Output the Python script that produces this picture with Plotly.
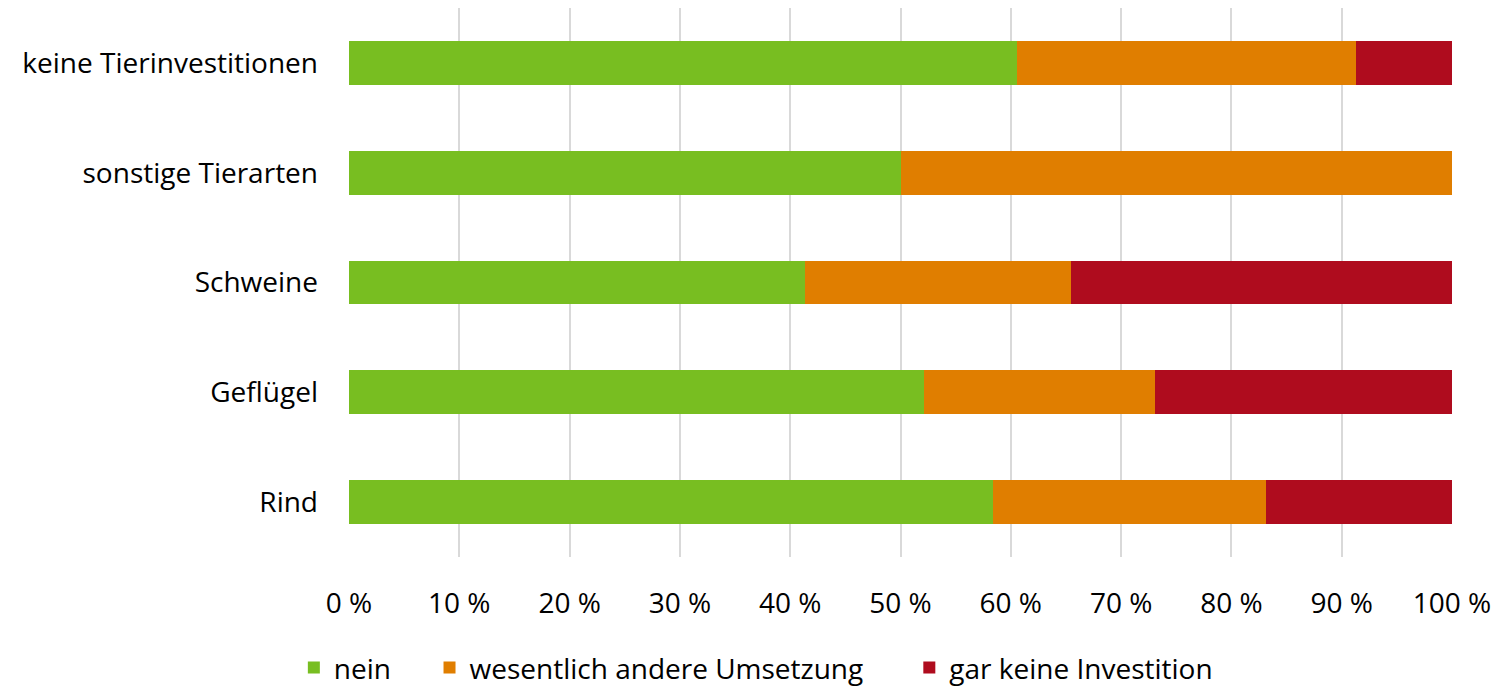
import plotly.graph_objects as go

# categories bottom -> top
categories = ["Rind", "Geflügel", "Schweine", "sonstige Tierarten", "keine Tierinvestitionen"]
nein = [58.4, 52.1, 41.3, 50.0, 60.6]
andere = [24.7, 21.0, 24.2, 50.0, 30.7]
keine_inv = [16.9, 26.9, 34.5, 0.0, 8.7]

tick_vals = [0, 10, 20, 30, 40, 50, 60, 70, 80, 90, 100]
tick_text = [f"{v} %" for v in tick_vals]

font_family = "'Open Sans', sans-serif"

fig = go.Figure()
fig.add_bar(y=categories, x=nein, name="nein", orientation="h", legend="legend",
            marker=dict(color="#78BE21", line=dict(width=0)))
fig.add_bar(y=categories, x=andere, name="wesentlich andere Umsetzung", orientation="h",
            legend="legend2", marker=dict(color="#E07E00", line=dict(width=0)))
fig.add_bar(y=categories, x=keine_inv, name="gar keine Investition", orientation="h",
            legend="legend3", marker=dict(color="#AF0C1E", line=dict(width=0)))

# one legend per entry so the spacing can follow the original
leg = dict(orientation="h", xanchor="left", y=-0.202, yanchor="middle",
           font=dict(size=28), itemwidth=30, bgcolor="rgba(0,0,0,0)")

# page body adds 8px offset, margins compensate
fig.update_layout(
    barmode="stack",
    bargap=0.6,
    width=1503, height=686,
    margin=dict(l=341, r=59, t=0, b=137),
    plot_bgcolor="white", paper_bgcolor="white",
    font=dict(family=font_family, size=28, color="black"),
    legend=dict(leg, x=-0.05),
    legend2=dict(leg, x=0.073),
    legend3=dict(leg, x=0.508),
    showlegend=True,
)
fig.update_xaxes(range=[0, 100], tickvals=tick_vals, ticktext=tick_text,
                 showgrid=True, gridcolor="#D9D9D9", gridwidth=2,
                 zeroline=False, showline=False, ticks="", ticklabelstandoff=27)
fig.update_yaxes(showgrid=False, showline=False, ticks="", ticklabelstandoff=30)

fig.write_html("out.html")
